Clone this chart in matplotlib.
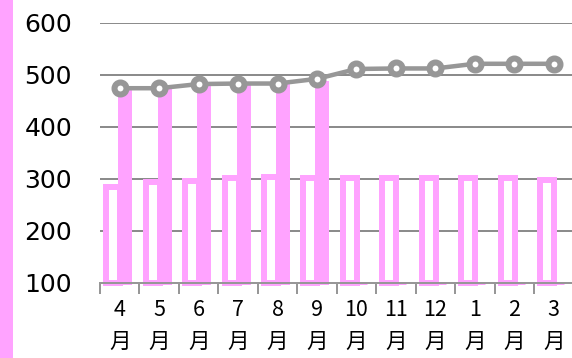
import numpy as np
import matplotlib
matplotlib.use("Agg")
import matplotlib.pyplot as plt
from matplotlib.patches import Rectangle

# Monthly data (fiscal year, April to March)
months = ["4", "5", "6", "7", "8", "9", "10", "11", "12", "1", "2", "3"]
outline_values = [285, 293, 296, 302, 304, 301, 302, 302, 302, 302, 302, 298]
filled_values = [470, 472, 480, 481, 480, 486, 0, 0, 0, 0, 0, 0]
line_values = [474, 474, 482, 483, 483, 492, 511, 512, 512, 521, 521, 521]
y_ticks = [100, 200, 300, 400, 500, 600]

PINK = "#FFA3FF"
GRAY = "#979797"
GRID = "#8C8C8C"

DPI = 100
W, H = 572, 358
px = 72.0 / DPI  # points per pixel

fig = plt.figure(figsize=(W / DPI, H / DPI), dpi=DPI)
fig.patches.append(Rectangle((0, 0), 13.3 / W, 1, transform=fig.transFigure,
                             facecolor=PINK, edgecolor="none", zorder=0))

left, right = 100.0, 573.4
bottom_px, top_px = 282.7, 22.7
ax = fig.add_axes([left / W, (H - bottom_px) / H,
                   (right - left) / W, (bottom_px - top_px) / H])

base = y_ticks[0]
x = np.arange(len(months))
cat_px = (right - left) / len(months)

# outlined bars (white face, thick pink border)
ow = 14 / cat_px
ax.bar(x - 6.5 / cat_px, np.array(outline_values) - base, bottom=base, width=ow,
       facecolor="white", edgecolor=PINK, linewidth=6 * px, zorder=2, clip_on=False)

# solid bars
fw = 11 / cat_px
heights = np.clip(np.array(filled_values) - base, 0, None)
ax.bar(x + 5 / cat_px, heights, bottom=base, width=fw,
       facecolor=PINK, edgecolor=PINK, linewidth=3 * px, zorder=2.1, clip_on=False)

# trend line with hollow circle markers
ax.plot(x, line_values, color=GRAY, linewidth=4.5 * px, marker="o",
        markersize=12 * px, markeredgewidth=6 * px, markerfacecolor="white",
        markeredgecolor=GRAY, zorder=4, clip_on=False)

ax.set_xlim(-0.5, len(months) - 0.5)
ax.set_ylim(base, y_ticks[-1])
ax.set_yticks(y_ticks)
ax.set_yticklabels([str(v) for v in y_ticks], fontsize=18, family="DejaVu Sans")
ax.tick_params(axis="y", length=0, pad=28 * px)

ax.set_xticks(x)
ax.set_xticklabels([m + "\n月" for m in months], fontsize=15.5,
                   family=["Noto Sans CJK JP", "DejaVu Sans"], linespacing=1.55)
ax.tick_params(axis="x", length=0, pad=12)
# tick marks at category boundaries
ax.set_xticks(np.arange(len(months) + 1) - 0.5, minor=True)
ax.tick_params(axis="x", which="minor", length=8, width=2 * px, color=GRAY, direction="out")

ax.set_axisbelow(True)
ax.yaxis.grid(True, color=GRID, linewidth=2 * px)
for side in ("left", "right", "top"):
    ax.spines[side].set_visible(False)
ax.spines["bottom"].set_color(GRAY)
ax.spines["bottom"].set_linewidth(2 * px)
ax.spines["bottom"].set_zorder(5)

fig.savefig("out.png", dpi=DPI)
